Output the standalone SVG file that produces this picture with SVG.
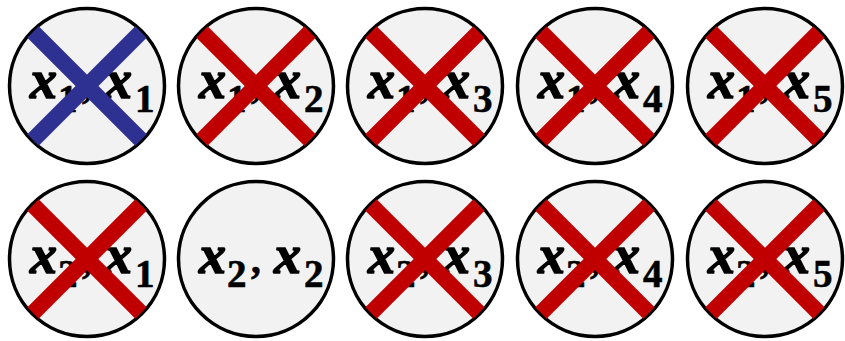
<svg xmlns="http://www.w3.org/2000/svg" width="845" height="341" viewBox="0 0 845 341">
<style>
.c{fill:#f2f2f2;stroke:#000;stroke-width:3.5}
.v{font-family:"Liberation Serif",serif;font-weight:bold;font-style:italic;font-size:54px;fill:#000;stroke:#000;stroke-width:1.5}
.s{font-family:"Liberation Serif",serif;font-weight:bold;font-size:39px;fill:#000;stroke:#000;stroke-width:0.6}
.x{stroke-width:16;stroke-linecap:butt;fill:none}
.r{stroke:#c00000}
.b{stroke:#2e3192}
</style>
<defs>
<g id="xr" class="x r"><line x1="-54" y1="-54" x2="54" y2="54"/><line x1="54" y1="-54" x2="-54" y2="54"/></g>
<g id="xb" class="x b"><line x1="-54" y1="-54" x2="54" y2="54"/><line x1="54" y1="-54" x2="-54" y2="54"/></g>
</defs>
<g id="n1" transform="translate(87,86)"><circle class="c" r="77.5"/><text class="v" x="-57" y="12">x</text><text class="s" x="-29" y="26">1</text><text class="s" x="-5" y="12">,</text><text class="v" x="18" y="12">x</text><text class="s" x="48" y="26">1</text><use href="#xb"/></g>
<g id="n2" transform="translate(256,86)"><circle class="c" r="77.5"/><text class="v" x="-57" y="12">x</text><text class="s" x="-29" y="26">1</text><text class="s" x="-5" y="12">,</text><text class="v" x="18" y="12">x</text><text class="s" x="48" y="26">2</text><use href="#xr"/></g>
<g id="n3" transform="translate(425,86)"><circle class="c" r="77.5"/><text class="v" x="-57" y="12">x</text><text class="s" x="-29" y="26">1</text><text class="s" x="-5" y="12">,</text><text class="v" x="18" y="12">x</text><text class="s" x="48" y="26">3</text><use href="#xr"/></g>
<g id="n4" transform="translate(595,86)"><circle class="c" r="77.5"/><text class="v" x="-57" y="12">x</text><text class="s" x="-29" y="26">1</text><text class="s" x="-5" y="12">,</text><text class="v" x="18" y="12">x</text><text class="s" x="48" y="26">4</text><use href="#xr"/></g>
<g id="n5" transform="translate(765,86)"><circle class="c" r="77.5"/><text class="v" x="-57" y="12">x</text><text class="s" x="-29" y="26">1</text><text class="s" x="-5" y="12">,</text><text class="v" x="18" y="12">x</text><text class="s" x="48" y="26">5</text><use href="#xr"/></g>
<g id="n6" transform="translate(87,259)"><circle class="c" r="77.5"/><text class="v" x="-57" y="14">x</text><text class="s" x="-29" y="28">2</text><text class="s" x="-5" y="14">,</text><text class="v" x="18" y="14">x</text><text class="s" x="48" y="28">1</text><use href="#xr"/></g>
<g id="n7" transform="translate(256,259)"><circle class="c" r="77.5"/><text class="v" x="-57" y="14">x</text><text class="s" x="-29" y="28">2</text><text class="s" x="-5" y="14">,</text><text class="v" x="18" y="14">x</text><text class="s" x="48" y="28">2</text></g>
<g id="n8" transform="translate(425,259)"><circle class="c" r="77.5"/><text class="v" x="-57" y="14">x</text><text class="s" x="-29" y="28">2</text><text class="s" x="-5" y="14">,</text><text class="v" x="18" y="14">x</text><text class="s" x="48" y="28">3</text><use href="#xr"/></g>
<g id="n9" transform="translate(595,259)"><circle class="c" r="77.5"/><text class="v" x="-57" y="14">x</text><text class="s" x="-29" y="28">2</text><text class="s" x="-5" y="14">,</text><text class="v" x="18" y="14">x</text><text class="s" x="48" y="28">4</text><use href="#xr"/></g>
<g id="n10" transform="translate(765,259)"><circle class="c" r="77.5"/><text class="v" x="-57" y="14">x</text><text class="s" x="-29" y="28">2</text><text class="s" x="-5" y="14">,</text><text class="v" x="18" y="14">x</text><text class="s" x="48" y="28">5</text><use href="#xr"/></g>
<g id="connectors"/>
</svg>
